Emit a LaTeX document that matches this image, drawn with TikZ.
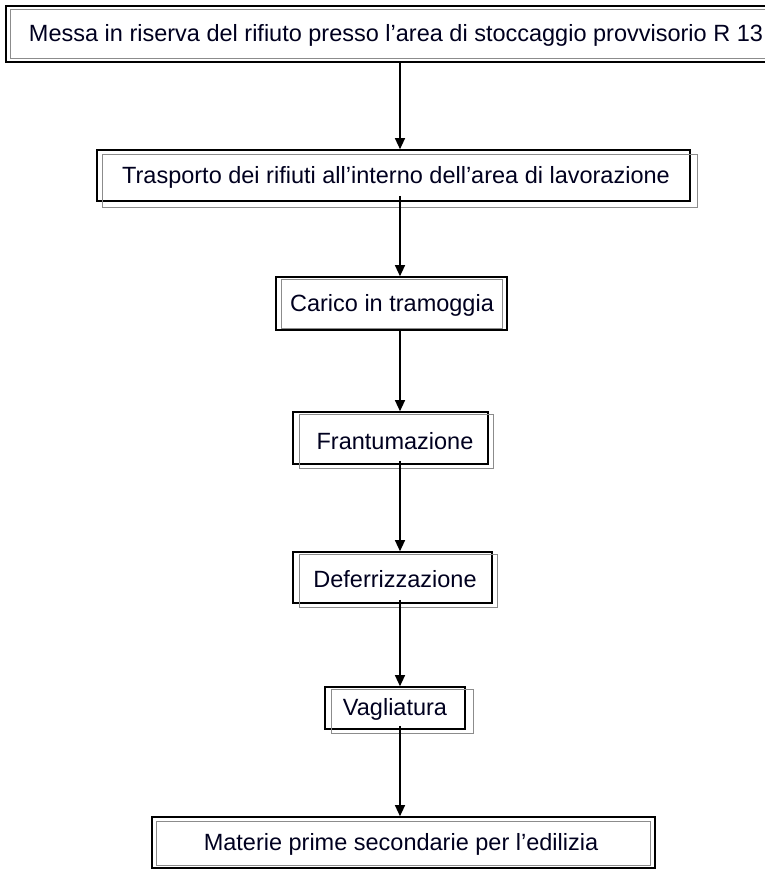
\documentclass[tikz,border=0pt]{standalone}
\usepackage{fontspec}
\setmainfont{Liberation Sans}
\usetikzlibrary{arrows.meta}
\begin{document}
\begin{tikzpicture}[x=1pt,y=-1pt,
  stepbox/.style={draw=black,line width=1.6pt,fill=white,inner sep=0pt},
  steptext/.style={inner sep=0pt,font=\fontsize{23.5}{26}\selectfont,text=black!88!blue},
  shadowbox/.style={draw=black!45,line width=1pt},
  arr/.style={line width=1.2pt,-{Triangle[length=11pt,width=10pt]}}]
\useasboundingbox (0,0) rectangle (765,873);
% boxes: center, width, height
\node[stepbox,minimum width=779pt,minimum height=56pt] (b1) at (395.5,34) {};
\node[stepbox,minimum width=593pt,minimum height=51pt] (b2) at (393.5,175.5) {};
\node[stepbox,minimum width=231pt,minimum height=53pt] (b3) at (391.5,303.5) {};
\node[stepbox,minimum width=195pt,minimum height=52pt] (b4) at (390.5,438) {};
\node[stepbox,minimum width=199pt,minimum height=51pt] (b5) at (392.5,577.5) {};
\node[stepbox,minimum width=140pt,minimum height=42pt] (b6) at (395,708) {};
\node[stepbox,minimum width=503pt,minimum height=51pt] (b7) at (403.5,842.5) {};
% grey second frames
\draw[shadowbox] ([shift={(5,4)}]b1.north west) rectangle ([shift={(-5,-4)}]b1.south east);
\draw[shadowbox] ([shift={(6,5)}]b2.north west) rectangle ([shift={(7,6)}]b2.south east);
\draw[shadowbox] ([shift={(6,3)}]b3.north west) rectangle ([shift={(-5,-2)}]b3.south east);
\draw[shadowbox] ([shift={(7,3)}]b4.north west) rectangle ([shift={(5,4)}]b4.south east);
\draw[shadowbox] ([shift={(7,3)}]b5.north west) rectangle ([shift={(5,4)}]b5.south east);
\draw[shadowbox] ([shift={(7,3)}]b6.north west) rectangle ([shift={(8,4)}]b6.south east);
\draw[shadowbox] ([shift={(5,5)}]b7.north west) rectangle ([shift={(-5,-3)}]b7.south east);
% texts
\node[steptext] (t1) at (396,35) {Messa in riserva del rifiuto presso l’area di stoccaggio provvisorio R 13};
\node[steptext] (t2) at (396,177) {Trasporto dei rifiuti all’interno dell’area di lavorazione};
\node[steptext] (t3) at (392,305) {Carico in tramoggia};
\node[steptext] (t4) at (395,441) {Frantumazione};
\node[steptext] (t5) at (395,579) {Deferrizzazione};
\node[steptext] (t6) at (395,709) {Vagliatura};
\node[steptext] (t7) at (401,844) {Materie prime secondarie per l’edilizia};
% arrows
\coordinate (ax) at (400,0);
\draw[arr] (b1.south -| ax) -- (b2.north -| ax);
\draw[arr] ([yshift=6pt]b2.south -| ax) -- (b3.north -| ax);
\draw[arr] (b3.south -| ax) -- (b4.north -| ax);
\draw[arr] ([yshift=4pt]b4.south -| ax) -- (b5.north -| ax);
\draw[arr] ([yshift=4pt]b5.south -| ax) -- (b6.north -| ax);
\draw[arr] ([yshift=4pt]b6.south -| ax) -- (b7.north -| ax);
\end{tikzpicture}
\end{document}
